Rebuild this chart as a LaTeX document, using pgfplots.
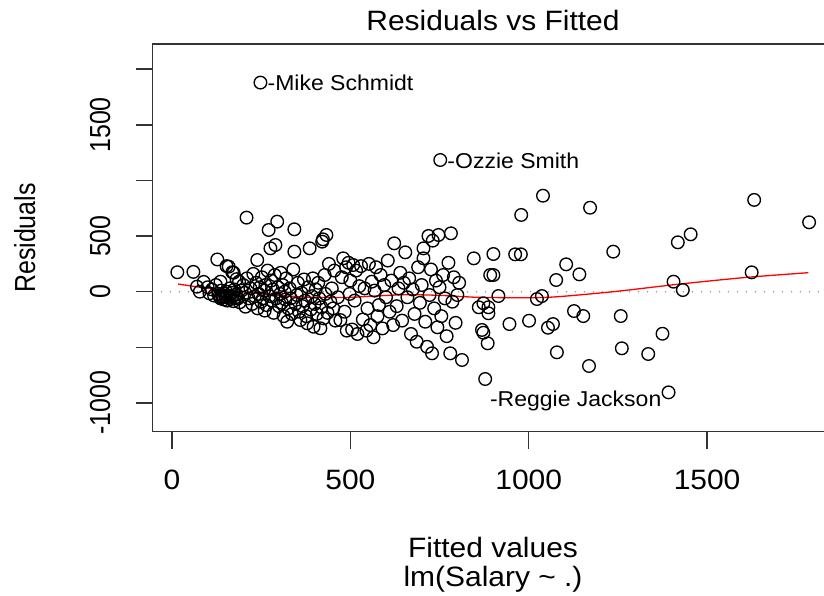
\documentclass[border=0pt]{standalone}
\usepackage{pgfplots}
\pgfplotsset{compat=1.18}
\usepackage{fontspec}
\setmainfont{Liberation Sans}[FakeStretch=1.07]
\newfontfamily\rotfont{Liberation Sans}[FakeStretch=0.86]
\newcommand{\axfont}{\fontsize{28bp}{33bp}\selectfont}
\newcommand{\rotaxfont}{\rotfont\fontsize{29bp}{33bp}\selectfont}
\newcommand{\idfont}{\fontsize{21.5bp}{26bp}\selectfont}

% fitted values and residuals of lm(Salary ~ .)
\pgfplotstableread{
fit res
15 175
60 178
70 45
78 0
89 88
100 40
105 -15
112 20
118 -35
123 60
127 290
130 -20
133 -40
136 -60
138 10
140 -30
142 -50
145 -70
148 -20
150 -45
152 0
155 -80
157 -35
160 -55
162 30
165 -65
168 -10
170 -40
172 -85
175 20
178 -50
180 -25
185 -60
188 90
190 -95
195 10
153 230
169 175
181 113
136 90
159 225
173 171
200 60
205 -10
209 666
206 -135
210 120
215 -60
220 30
225 -110
228 160
232 -40
236 80
239 285
240 -150
243 -20
246 40
250 -90
252 130
255 -60
258 10
260 -170
262 60
265 -120
268 190
271 555
273 -40
276 390
278 100
280 -80
283 20
285 -190
288 150
290 420
292 -60
295 630
297 40
300 -130
303 -20
305 170
308 -100
310 60
313 -220
316 0
318 -70
320 120
323 -270
326 -150
330 30
333 -60
336 -200
340 200
343 360
343 561
346 -110
350 -30
353 80
356 -180
360 -255
363 -10
366 -130
370 110
373 -80
376 -220
379 -284
382 40
386 390
389 -160
392 -40
395 120
397 -315
400 -110
403 20
406 -200
410 80
413 -60
416 -329
419 -140
421 450
423 471
425 -240
428 150
430 -20
433 510
436 -190
440 250
444 -90
448 30
452 -150
455 190
458 -260
465 -50
472 -255
476 130
480 300
484 -180
488 220
490 -350
495 260
498 -20
500 100
505 -340
508 240
512 -80
516 190
520 -380
525 50
530 230
535 -250
540 30
545 -350
548 -150
552 250
556 -300
560 90
565 -410
568 10
572 220
576 -220
580 -120
585 150
590 -330
595 60
600 -50
605 280
610 -180
615 100
620 -300
623 435
630 -130
635 30
640 170
645 -260
650 80
654 354
660 -50
665 120
670 -380
675 20
680 -200
686 -450
690 220
695 -100
700 60
705 390
705 300
710 -270
715 -495
719 501
722 -30
726 200
729 -554
731 459
735 -150
740 100
744 -320
747 510
750 40
755 -220
760 150
765 -60
770 -400
775 260
780 -554
782 525
786 -90
790 130
795 -280
800 -30
805 80
813 -614
846 300
860 -140
869 -344
873 -369
873 -104
878 -785
885 -464
887 -140
887 -194
892 150
901 339
901 150
915 -39
946 -291
962 336
978 336
979 690
1001 -261
1023 -66
1037 -39
1040 863
1054 -324
1068 -291
1077 105
1079 -545
1105 246
1127 -174
1142 156
1153 -219
1169 -668
1172 755
1237 360
1258 -219
1261 -509
1335 -560
1375 -378
1392 -905
1406 90
1418 444
1432 15
1454 516
1625 174
1632 825
1786 624
248 1880
752 1184
}\resid

% lowess smoother through the residuals
\pgfplotstableread{
fit res
17 69
99 31
192 0
285 -30
397 -51
500 -51
565 -39
659 -27
752 -33
864 -51
1051 -51
1237 0
1424 69
1611 129
1784 171
}\smoother

\begin{document}
\begin{tikzpicture}
\useasboundingbox (0,0) rectangle (824bp,-596bp);
\begin{axis}[
  at={(152.5bp,-44bp)}, anchor=north west,
  scale only axis, width=681.5bp, height=387.5bp,
  xmin=-54.6, xmax=1855.8, ymin=-1257, ymax=2227,
  xtick={0,500,1000,1500},
  ytick={-1000,-500,0,500,1000,1500,2000},
  xticklabels={0,500,1000,1500},
  yticklabels={-1000,,0,500,,1500,},
  xtick pos=left, ytick pos=left,
  tick align=outside, major tick length=17bp,
  axis line style={line width=1.5bp, black!80},
  every tick/.style={line width=1.5bp, black!80},
  xticklabel style={font=\axfont, anchor=north, inner sep=0pt},
  yticklabel style={font=\rotaxfont, rotate=90, anchor=south, inner sep=0pt},
  xticklabel shift=21bp, yticklabel shift=25bp,
]
\addplot[gray!75, line width=1.8bp, line cap=round, dash pattern=on 0pt off 9bp, forget plot]
  coordinates {(-54.6,0) (1855.8,0)};
\addplot[only marks, mark=o, mark size=6.3bp, black, mark options={line width=1.35bp}]
  table[x=fit, y=res] {\resid};
\addplot[red, line width=1.3bp, smooth, tension=0.4] table[x=fit, y=res] {\smoother};
\node[anchor=base west, inner sep=0pt, xshift=7bp, yshift=-8bp, font=\idfont]
  at (axis cs:248,1880) {-Mike Schmidt};
\node[anchor=base west, inner sep=0pt, xshift=7bp, yshift=-8bp, font=\idfont]
  at (axis cs:752,1184) {-Ozzie Smith};
\node[anchor=base east, inner sep=0pt, xshift=-7bp, yshift=-14bp, font=\idfont]
  at (axis cs:1392,-905) {-Reggie Jackson};
\end{axis}
\node[anchor=base, font=\axfont] at (493bp,-30.7bp) {Residuals vs Fitted};
\node[anchor=base, font=\axfont] at (493bp,-557bp) {Fitted values};
\node[anchor=base, font=\axfont] at (493bp,-586.7bp) {lm(Salary \textasciitilde{} .)};
\node[anchor=base, rotate=90, font=\rotaxfont, inner sep=0pt] at (35bp,-238bp) {Residuals};
\end{tikzpicture}
\end{document}
